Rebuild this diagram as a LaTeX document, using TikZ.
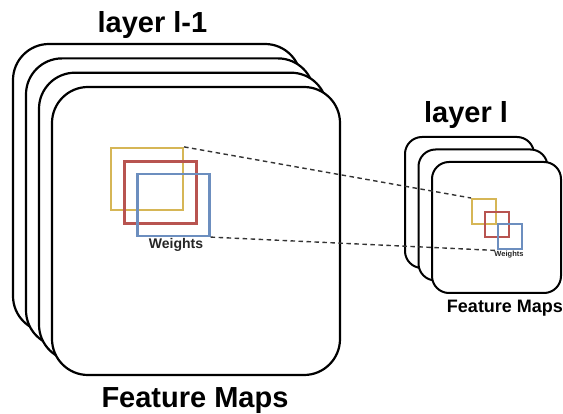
\documentclass[tikz,border=0pt]{standalone}
\usepackage{fontspec}
\setmainfont{Liberation Sans}
\definecolor{kyellow}{HTML}{D6B656}
\definecolor{kred}{HTML}{B85450}
\definecolor{kblue}{HTML}{6C8EBF}
\tikzset{
  bigmap/.style={draw=black, fill=white, line width=2.2pt, rounded corners=36pt,
    minimum width=288pt, minimum height=288pt, inner sep=0pt},
  smallmap/.style={draw=black, fill=white, line width=2pt, rounded corners=17pt,
    minimum width=129pt, minimum height=131pt, inner sep=0pt},
  kernel/.style={line width=2.2pt, inner sep=0pt},
  title/.style={font=\bfseries\fontsize{29}{32}\selectfont, anchor=base, inner sep=0pt},
  link/.style={dash pattern=on 4.5pt off 3.5pt, line width=1.4pt, black!80},
}
\begin{document}
\begin{tikzpicture}[x=1pt,y=-1pt]
  \useasboundingbox (0,0) rectangle (563,414);

  % layer l-1: stack of feature maps
  \node[bigmap] (b1) at (157,188) {};
  \node[bigmap] (b2) at (170,202.4) {};
  \node[bigmap] (b3) at (183,216.7) {};
  \node[bigmap] (b4) at (196,231) {};

  % receptive field windows
  \node[kernel, draw=kyellow, minimum width=72pt, minimum height=62pt] (ky) at (147,179) {};
  \node[kernel, draw=kred, minimum width=72pt, minimum height=62pt] (kr) at (160.5,192.5) {};
  \node[kernel, draw=kblue, minimum width=72pt, minimum height=62pt] (kb) at (173.5,205) {};
  \node[anchor=base, inner sep=0pt, font=\bfseries\fontsize{14}{16}\selectfont, text=black!85] (wl) at (176,249) {Weights};

  % layer l: stack of feature maps
  \node[smallmap] (s1) at (469.5,202.5) {};
  \node[smallmap] (s2) at (483,215) {};
  \node[smallmap] (s3) at (496.5,227.5) {};

  \node[kernel, draw=kyellow, line width=2pt, minimum width=24pt, minimum height=25pt] (sy) at (484,211.5) {};
  \node[kernel, draw=kred, line width=2pt, minimum width=24pt, minimum height=25pt] (sr) at (497,224.5) {};
  \node[kernel, draw=kblue, line width=2pt, minimum width=24pt, minimum height=25pt] (sb) at (510,237) {};
  \node[anchor=base, inner sep=0pt, font=\bfseries\fontsize{7.5}{8}\selectfont, text=black!85] (ws) at (509,257) {Weights};

  % titles
  \node[title] (t1) at (152.5,33) {layer l-1};
  \node[title] (t2) at (466,123) {layer l};
  \node[title] (f1) at (195,407) {Feature Maps};
  \node[anchor=base, inner sep=0pt, font=\bfseries\fontsize{18}{20}\selectfont] (f2) at (505,313) {Feature Maps};

  % projection of the window onto the next layer
  \draw[link] (ky.north east) -- (sy.north west);
  \draw[link] (kb.south east) -- (sb.south west);
\end{tikzpicture}
\end{document}
